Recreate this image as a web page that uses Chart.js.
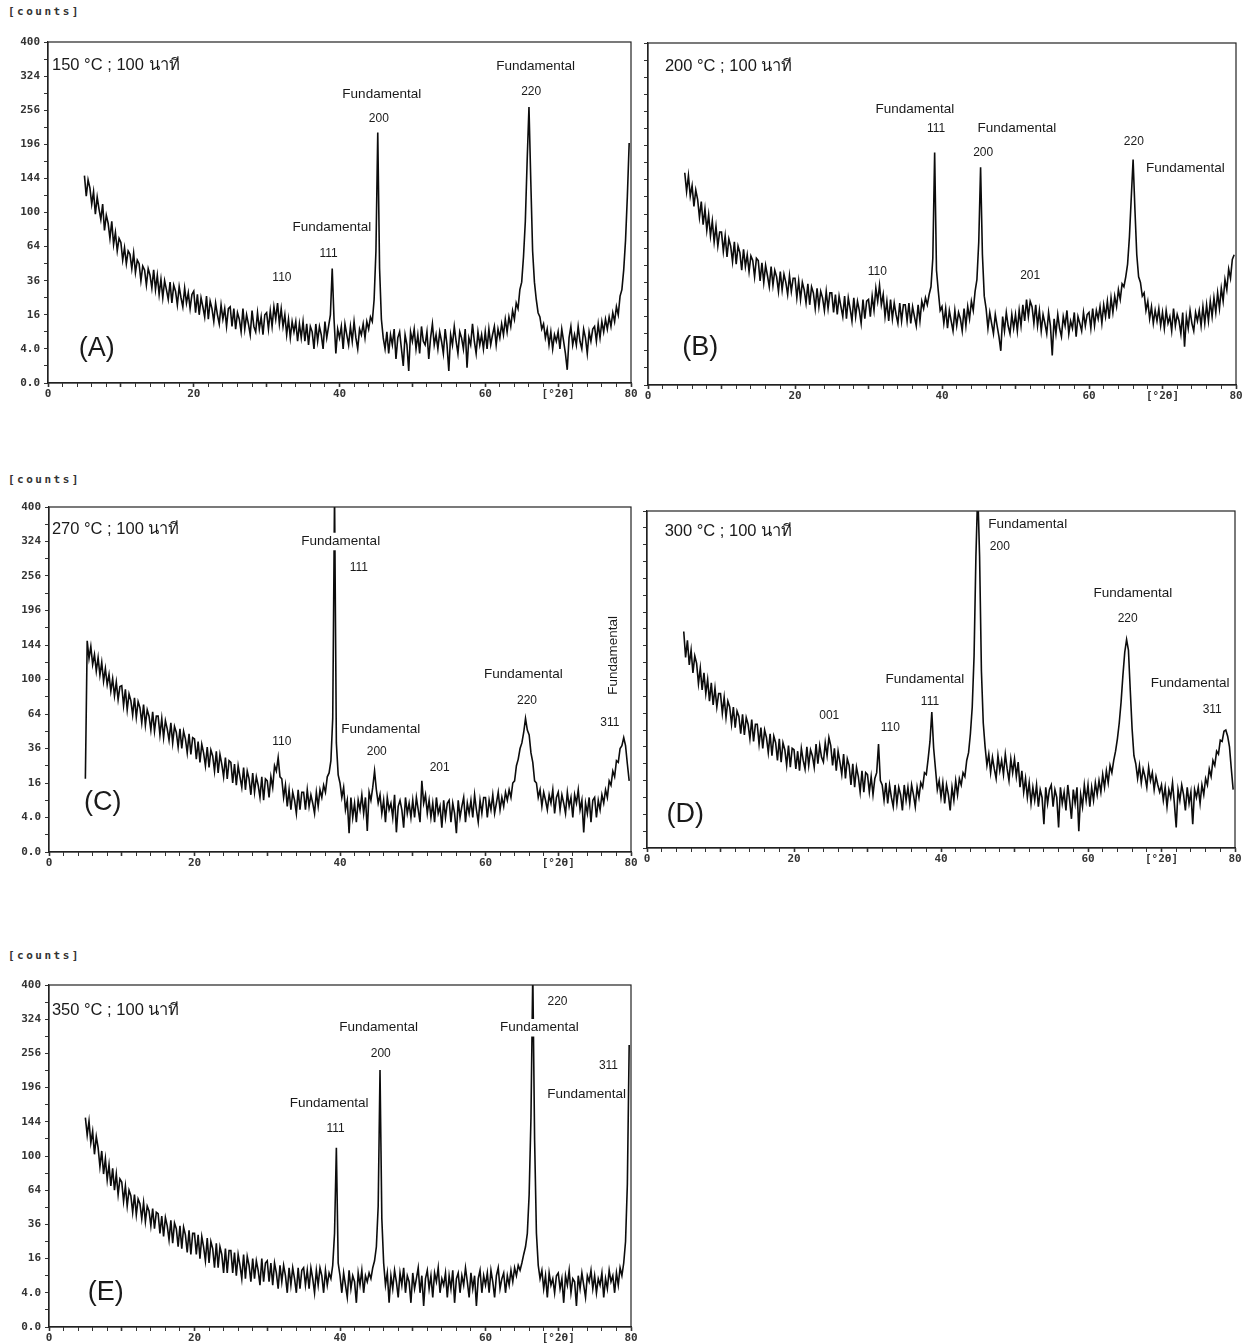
<!DOCTYPE html>
<html>
<head>
<meta charset="utf-8">
<script src="https://cdn.jsdelivr.net/npm/chart.js@4.4.1/dist/chart.umd.min.js"></script>
<style>
  body{margin:0;background:#fff;width:1255px;height:1344px;position:relative;overflow:hidden;font-family:"Liberation Sans",Arial,sans-serif}
  canvas{position:absolute}
  .cnt{position:absolute;left:8px;font:bold 11px "DejaVu Sans Mono",monospace;color:#333;letter-spacing:2.5px}
</style>
</head>
<body>
<div class="cnt" style="top:5px">[counts]</div>
<div class="cnt" style="top:473px">[counts]</div>
<div class="cnt" style="top:949px">[counts]</div>

<canvas id="cA" width="645" height="375" style="left:0;top:30px"></canvas>
<canvas id="cB" width="612" height="376" style="left:638px;top:31px"></canvas>
<canvas id="cC" width="645" height="379" style="left:0;top:495px"></canvas>
<canvas id="cD" width="612" height="371" style="left:637px;top:499px"></canvas>
<canvas id="cE" width="645" height="376" style="left:0;top:973px"></canvas>

<script>
/* XRD patterns, 5 anneal temps, y axis is square-root counts */

// scan grid: 5.00 .. 79.75 deg 2theta, 0.25 step (20 values per line = 5 deg)
var SCAN_START=5, SCAN_STEP=0.25;
var Y_TICK_LABELS=['0.0','4.0','16','36','64','100','144','196','256','324','400'];

var COUNTS_A=[ // 150 C
  148,120,142,131,110,126,98,119,104,92,110,80,97,88,72,90,66,78,60,72,
  68,52,63,49,60,57,45,58,42,52,49,36,47,44,33,45,40,31,44,30,
  40,27,37,25,36,30,24,35,22,33,29,21,32,25,20,31,22,28,19,27,
  29,17,27,16,25,20,15,26,14,23,19,13,22,16,12,21,14,19,11,19,
  20,11,19,10,17,14,9,19,10,16,12,8,18,11,9,17,10,15,8,16,
  17,10,18,11,20,14,22,12,19,11,16,8,14,7,13,9,13,6,12,7,
  13,6,12,5,11,9,4,12,6,11,8,4,13,7,11,16,45,14,3,10,
  7,11,4,12,8,5,11,6,13,7,4,10,8,12,7,13,10,15,13,24,
  60,216,45,14,7,4,9,3,8,5,10,2,7,9,4,1,8,5,0.5,9,
  6,10,4,8,3,11,6,5,9,2,7,12,5,8,4,9,6,3,10,5,
  0.5,8,5,11,6,3,9,7,4,10,0.8,7,5,12,6,3,9,5,8,4,
  9,4,10,5,8,11,5,10,7,12,8,14,9,15,11,18,14,22,19,30,
  35,55,90,170,262,140,60,35,24,17,15,10,12,7,10,5,9,4,8,6,
  9,4,10,6,3,0.6,7,11,5,8,5,11,6,4,10,7,3,9,6,10,
  11,6,12,7,13,9,14,10,15,11,17,13,20,16,26,30,44,70,120,198
];
var COUNTS_B=[ // 200 C
  154,128,150,122,136,109,130,118,96,115,88,106,82,99,76,92,70,86,66,80,
  80,61,76,56,73,66,52,70,50,66,60,45,63,48,58,44,57,53,40,55,
  53,37,51,36,49,41,33,48,34,45,40,30,44,31,42,36,28,41,30,39,
  39,26,37,25,36,31,23,35,22,33,29,20,32,21,30,26,19,30,20,29,
  29,18,28,17,27,21,16,27,15,26,20,14,26,16,24,19,13,25,15,24,
  25,16,27,19,32,24,34,22,28,16,24,14,25,15,23,17,13,23,14,22,
  22,14,23,13,21,16,12,22,14,24,20,26,22,28,33,55,185,45,30,19,
  21,13,20,11,19,14,10,19,12,18,15,10,20,12,21,15,24,19,30,38,
  70,162,58,27,20,11,18,13,9,17,12,8,4,16,10,18,12,9,17,11,
  17,10,19,12,22,14,25,16,24,21,13,22,12,19,10,17,13,9,18,12,
  3,15,9,17,11,8,16,12,19,9,14,11,18,8,16,13,10,18,12,17,
  18,11,20,12,19,15,21,13,22,16,24,15,26,18,27,21,31,25,35,33,
  40,50,75,120,174,105,58,40,36,27,29,19,24,15,21,13,19,14,20,12,
  18,11,19,13,16,10,20,12,17,14,9,18,5,16,11,19,13,10,18,14,
  19,12,21,13,22,14,24,16,26,18,29,20,32,24,38,31,46,39,54,58
];
var COUNTS_C=[ // 270 C
  18,150,126,142,118,131,110,127,105,121,98,113,94,106,87,101,82,97,78,92,
  93,72,89,68,84,77,63,80,61,76,70,56,73,54,68,62,50,66,49,62,
  62,46,60,44,58,51,42,56,40,53,48,37,51,36,49,43,33,47,32,44,
  43,29,41,27,39,33,25,37,24,35,31,22,34,21,32,26,19,30,18,28,
  27,16,26,15,25,19,14,24,13,22,18,11,21,12,19,15,10,19,9,18,
  17,10,19,14,25,22,30,19,18,10,15,7,13,6,12,9,5,13,6,12,
  12,6,13,7,11,8,5,12,7,13,10,15,12,19,21,28,60,430,40,20,
  16,10,14,6,9,1.2,10,4,8,3,9,6,11,5,10,1.5,12,9,14,22,
  13,8,11,5,9,3,10,6,8,4,11,1.3,7,9,6,2,10,5,8,4,
  9,4,10,6,3,17,8,11,5,9,4,8,3,10,5,7,2,9,4,8,
  9,3,8,5,1.2,9,4,7,10,3,8,5,9,4,11,6,3,9,5,10,
  10,4,9,6,11,5,8,12,6,10,7,12,9,13,10,16,17,25,29,36,
  40,48,60,50,46,33,27,17,16,10,13,7,12,9,6,11,8,13,5,10,
  12,6,11,8,5,12,7,10,4,11,8,13,6,9,1.3,8,5,10,3,9,
  10,4,9,6,11,8,13,10,17,15,22,19,28,27,36,38,44,38,26,17
];
var COUNTS_D=[ // 300 C
  165,128,152,118,138,108,130,120,95,114,88,108,84,100,76,96,72,90,70,84,
  84,64,80,60,76,70,54,70,51,66,61,46,63,45,60,54,42,58,40,54,
  54,38,51,35,49,43,32,46,30,44,39,27,42,26,39,34,24,37,23,35,
  34,22,33,21,35,27,22,36,24,34,30,23,38,25,37,29,26,39,30,43,
  37,24,35,21,33,26,19,31,17,28,24,14,25,13,23,18,11,21,11,20,
  19,11,18,10,17,20,38,16,14,8,15,7,14,9,6,14,7,13,10,5,
  14,8,13,7,14,10,6,13,9,15,13,20,19,28,40,65,35,22,12,16,
  9,15,7,14,10,5,13,8,16,10,17,14,20,18,27,32,46,70,130,300,
  450,300,110,55,36,24,31,20,29,22,17,30,21,27,19,31,22,16,28,20,
  28,18,26,13,21,11,17,9,15,7,13,8,14,6,12,9,2,13,7,12,
  14,6,12,9,1.5,13,7,11,5,14,8,3,12,7,13,1,10,6,14,8,
  14,6,13,8,15,10,16,11,19,13,21,15,24,20,27,33,42,55,75,105,
  135,153,138,88,50,30,25,17,24,15,22,18,13,23,16,20,12,18,14,11,
  14,8,13,6,12,9,15,7,1.5,12,8,14,10,5,13,7,11,2,12,9,
  13,7,14,10,17,14,22,18,27,24,33,31,41,40,48,49,44,36,22,12
];
var COUNTS_E=[ // 350 C
  150,126,145,116,131,102,124,110,88,106,80,97,74,90,68,86,64,80,60,75,
  72,54,68,50,64,59,45,60,43,56,52,40,53,38,50,46,35,48,33,45,
  44,30,42,28,41,35,26,39,24,37,33,22,35,21,34,29,19,32,18,30,
  30,18,29,16,28,22,15,27,14,25,21,12,24,12,22,18,10,21,10,20,
  20,10,19,9,18,13,8,18,8,17,13,7,16,8,15,11,6,16,7,14,
  15,7,14,6,14,10,5,13,7,13,9,4,12,6,12,8,4,12,5,11,
  12,6,11,5,12,8,4,11,6,12,9,4,11,6,10,8,13,30,110,14,
  9,4,10,6,3,11,5,9,7,2,10,6,11,4,9,7,10,8,12,15,
  22,50,226,40,14,6,10,2,9,5,11,7,3,10,6,12,4,9,7,2,
  10,5,8,12,4,9,1.5,8,11,5,9,3,10,7,12,4,8,6,10,3,
  9,5,11,2,8,10,4,9,6,12,7,3,10,5,9,1.5,8,11,4,9,
  6,10,4,11,7,3,9,12,5,8,10,4,9,6,11,7,12,9,13,11,
  14,18,22,30,60,150,430,120,30,13,8,11,5,9,3,10,6,8,4,9,
  10,5,8,2,9,6,11,4,8,7,1.5,9,5,10,6,3,9,7,11,5,
  9,4,8,6,10,3,8,5,11,7,9,4,10,6,12,9,14,25,70,272
];

var TWO_THETA=COUNTS_A.map(function(_,i){return SCAN_START+i*SCAN_STEP;});

// annotation text, x in deg 2theta, y on the sqrt(counts) axis
var NOTES_A=[
  {t:'150 °C ; 100 นาที',x:0.55,y:18.65,size:16.5,align:'left'},
  {t:'Fundamental',x:45.8,y:16.95},{t:'200',x:45.4,y:15.5,size:12},
  {t:'Fundamental',x:66.9,y:18.6},{t:'220',x:66.3,y:17.1,size:12},
  {t:'Fundamental',x:38.96,y:9.15},{t:'111',x:38.5,y:7.57,size:12},
  {t:'110',x:32.1,y:6.2,size:12},
  {t:'(A)',x:6.7,y:2.0,size:27}
];
var NOTES_B=[
  {t:'200 °C ; 100 นาที',x:2.3,y:18.6,size:16.5,align:'left'},
  {t:'Fundamental',x:36.3,y:16.1},{t:'111',x:39.2,y:15.0,size:12},
  {t:'Fundamental',x:50.2,y:15.0},{t:'200',x:45.6,y:13.6,size:12},
  {t:'220',x:66.1,y:14.25,size:12},{t:'Fundamental',x:73.1,y:12.7},
  {t:'110',x:31.2,y:6.6,size:12},{t:'201',x:52.0,y:6.4,size:12},
  {t:'(B)',x:7.1,y:2.2,size:27}
];
var NOTES_C=[
  {t:'270 °C ; 100 นาที',x:0.4,y:18.7,size:16.5,align:'left'},
  {t:'Fundamental',x:40.1,y:18.0,bg:true},{t:'111',x:42.6,y:16.5,size:12},
  {t:'Fundamental',x:45.6,y:7.1},{t:'200',x:45.05,y:5.8,size:12},
  {t:'201',x:53.7,y:4.9,size:12},{t:'110',x:32.0,y:6.4,size:12},
  {t:'Fundamental',x:65.2,y:10.3},{t:'220',x:65.7,y:8.75,size:12},
  {t:'Fundamental',x:77.6,y:11.4,rot:-Math.PI/2},{t:'311',x:77.1,y:7.5,size:12},
  {t:'(C)',x:7.4,y:2.85,size:27}
];
var NOTES_D=[
  {t:'300 °C ; 100 นาที',x:2.4,y:18.8,size:16.5,align:'left'},
  {t:'Fundamental',x:51.8,y:19.2},{t:'200',x:48.0,y:17.9,size:12},
  {t:'Fundamental',x:66.1,y:15.1},{t:'220',x:65.4,y:13.6,size:12},
  {t:'Fundamental',x:73.9,y:9.8},{t:'311',x:76.9,y:8.2,size:12},
  {t:'Fundamental',x:37.8,y:10.0},{t:'111',x:38.5,y:8.7,size:12},
  {t:'001',x:24.8,y:7.86,size:12},{t:'110',x:33.1,y:7.14,size:12},
  {t:'(D)',x:5.2,y:1.96,size:27}
];
var NOTES_E=[
  {t:'350 °C ; 100 นาที',x:0.4,y:18.5,size:16.5,align:'left'},
  {t:'Fundamental',x:45.3,y:17.5},{t:'200',x:45.6,y:16.0,size:12},
  {t:'220',x:69.9,y:19.0,size:12},{t:'Fundamental',x:67.4,y:17.5,bg:true},
  {t:'311',x:76.9,y:15.3,size:12},{t:'Fundamental',x:73.9,y:13.6},
  {t:'Fundamental',x:38.5,y:13.1},{t:'111',x:39.4,y:11.6,size:12},
  {t:'(E)',x:7.8,y:2.0,size:27}
];

var TICK_FONT={family:'"DejaVu Sans Mono", monospace',size:11,weight:'bold'};

// box round the plot + the peak labels
var xrdNotes={
  id:'xrdNotes',
  afterDatasetsDraw:function(chart){
    var cfg=chart.options.plugins.xrdNotes;
    var ctx=chart.ctx,a=chart.chartArea,xs=chart.scales.x,ys=chart.scales.y;
    ctx.save();
    ctx.strokeStyle='#222';ctx.lineWidth=1.2;
    ctx.strokeRect(a.left,a.top,a.right-a.left,a.bottom-a.top);
    (cfg.notes||[]).forEach(function(n){
      var sz=n.size||13.5;
      var px=xs.getPixelForValue(n.x),py=ys.getPixelForValue(n.y);
      ctx.save();
      ctx.translate(px,py);
      if(n.rot)ctx.rotate(n.rot);
      ctx.font=sz+'px "Liberation Sans", Arial, sans-serif';
      ctx.textAlign=n.align||'center';ctx.textBaseline='middle';
      if(n.bg){
        var w=ctx.measureText(n.t).width;
        var x0=n.align==='left'?0:-w/2;
        ctx.fillStyle='#fff';ctx.fillRect(x0-2,-sz*0.65,w+4,sz*1.3);
      }
      ctx.fillStyle='#1a1a1a';
      ctx.fillText(n.t,0,0);
      ctx.restore();
    });
    ctx.restore();
  }
};

function xLabel(v){
  if(v===70)return '[°2θ]';
  if(v%20===0)return String(v);
  return '';
}

function makePanel(id,counts,notes,showY){
  var pts=counts.map(function(c,i){return {x:TWO_THETA[i],y:Math.sqrt(c)};});
  return new Chart(document.getElementById(id),{
    type:'line',
    data:{datasets:[{data:pts,borderColor:'#0c0c0c',borderWidth:1.6,pointRadius:0,tension:0,fill:false}]},
    options:{
      responsive:false,animation:false,
      layout:{padding:{top:12,right:14,left:0,bottom:0}},
      plugins:{legend:{display:false},tooltip:{enabled:false},xrdNotes:{notes:notes}},
      scales:{
        x:{type:'linear',min:0,max:80,
          afterFit:function(s){s.height=22;},
          ticks:{stepSize:2,autoSkip:false,maxRotation:0,padding:1,color:'#333',font:TICK_FONT,callback:xLabel},
          grid:{drawOnChartArea:false,drawTicks:true,tickLength:4,color:'#333',
            tickWidth:function(c){return c.tick&&c.tick.value%10===0?1.6:1;}},
          border:{color:'#222',width:1.2}},
        y:{type:'linear',min:0,max:20,
          afterFit:function(s){s.width=showY?(id==='cA'?48:49):10;},
          ticks:{stepSize:1,autoSkip:false,padding:4,color:'#333',font:TICK_FONT,
            callback:function(v){return (showY&&v%2===0)?Y_TICK_LABELS[v/2]:'';}},
          grid:{drawOnChartArea:false,drawTicks:true,tickLength:4,color:'#333'},
          border:{color:'#222',width:1.2}}
      }
    },
    plugins:[xrdNotes]
  });
}

makePanel('cA',COUNTS_A,NOTES_A,true);
makePanel('cB',COUNTS_B,NOTES_B,false);
makePanel('cC',COUNTS_C,NOTES_C,true);
makePanel('cD',COUNTS_D,NOTES_D,false);
makePanel('cE',COUNTS_E,NOTES_E,true);
</script>
</body>
</html>
